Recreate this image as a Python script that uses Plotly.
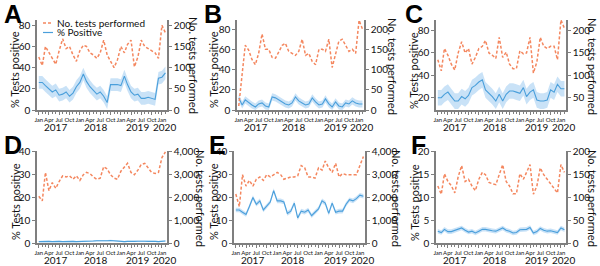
import plotly.graph_objects as go
import pandas as pd

# ---------------- data ----------------
months = pd.date_range("2017-01-01", periods=38, freq="MS")  # Jan 2017 .. Feb 2020
month_tick_vals = pd.date_range("2017-01-01", "2020-01-01", freq="3MS")
month_tick_text = ["Jan", "Apr", "Jul", "Oct"] * 3 + ["Jan"]
year_labels = ["2017", "2018", "2019", "2020"]
year_label_dates = ["2017-06-01", "2018-05-16", "2019-06-01", "2020-01-20"]

tests_A = [125, 105, 150, 135, 120, 108, 140, 168, 145, 150, 130, 115, 140, 153, 150, 135,
           130, 122, 135, 165, 130, 115, 100, 118, 150, 135, 155, 165, 102, 125, 165, 150,
           145, 140, 135, 122, 200, 182]
pct_A = [26, 26, 23, 20, 17, 19, 14, 15, 17, 13, 16, 22, 26, 34, 27, 22, 18, 15, 17, 13,
         7, 24, 24, 24, 23, 32, 24, 17, 14, 15, 11, 11, 12, 11, 10, 30, 31, 35]

tests_B = [10, 85, 160, 148, 125, 112, 140, 188, 150, 150, 130, 128, 145, 160, 165, 145,
           140, 135, 145, 175, 135, 140, 120, 112, 150, 150, 145, 175, 105, 140, 170, 175,
           160, 145, 150, 140, 222, 200]
pct_B = [12, 5, 10, 7, 5, 3, 6, 7, 4, 3, 13, 12, 10, 8, 6, 5, 7, 13, 9, 7,
         5, 6, 12, 8, 5, 6, 11, 6, 3, 8, 4, 3, 7, 6, 9, 7, 6, 6]

tests_C = [135, 110, 160, 145, 125, 112, 150, 175, 150, 160, 125, 140, 160, 165, 178, 150,
           145, 138, 185, 140, 152, 125, 115, 115, 155, 148, 150, 185, 105, 130, 185, 165,
           160, 165, 165, 135, 224, 205]
pct_C = [20, 20, 23, 25, 21, 17, 17, 21, 19, 22, 29, 31, 34, 36, 27, 24, 21, 17, 23, 17,
         23, 26, 26, 25, 24, 29, 21, 25, 27, 18, 17, 17, 18, 27, 25, 32, 28, 28]

tests_D = [2050, 1850, 3100, 2300, 2650, 2400, 2700, 2950, 2900, 2950, 2800, 2950, 2750, 3000,
           3100, 3050, 2900, 2800, 2850, 3350, 3250, 3000, 2850, 2800, 3150, 3350, 3500, 3100,
           3000, 3200, 3450, 3500, 3300, 3100, 3050, 3100, 3750, 4000]
pct_D = [0.6, 0.7, 0.6, 0.7, 0.6, 0.8, 0.7, 0.6, 0.7, 0.8, 0.7, 0.6, 0.6, 0.7, 0.8, 0.7,
         0.9, 1.0, 0.9, 0.8, 1.0, 1.1, 0.9, 0.8, 0.7, 0.6, 0.7, 0.6, 0.7, 0.8, 0.9, 0.8,
         0.7, 0.8, 0.7, 0.6, 0.8, 0.9]

tests_E = [2150, 1600, 3000, 2500, 2750, 2500, 2800, 2900, 2750, 3000, 2900, 3000, 3100, 3000,
           2800, 2850, 2900, 2900, 2950, 3400, 3300, 2900, 2900, 2850, 3300, 3200, 3600, 3300,
           3100, 3500, 2900, 3050, 3000, 3000, 3000, 3000, 3400, 3800]
pct_E = [14.5, 14.5, 13.5, 12.5, 16, 20, 17, 18.5, 14.5, 16, 18, 23, 18.5, 18.5, 18, 13,
         14, 17.5, 11, 14, 13.5, 14.5, 12, 13.5, 15, 18.5, 17.5, 13, 17.5, 13.5, 14, 14,
         17, 19, 18.5, 19.5, 21, 20.5]

tests_F = [125, 107, 152, 135, 126, 110, 145, 170, 135, 140, 125, 115, 140, 155, 150, 133,
           130, 128, 150, 172, 135, 125, 108, 108, 152, 140, 155, 172, 107, 125, 165, 150,
           140, 130, 120, 110, 172, 155]
pct_F = [2.6, 2.3, 3.0, 2.5, 2.5, 2.8, 3.0, 3.3, 2.8, 2.4, 2.6, 2.2, 2.6, 3.0, 3.0, 2.8,
         2.7, 2.6, 2.9, 3.3, 2.8, 2.6, 2.2, 2.3, 2.9, 2.9, 3.0, 3.4, 2.2, 2.5, 3.2, 2.8,
         2.6, 2.7, 2.5, 2.3, 3.3, 2.9]

# approximate 95% CI half-widths (percentage points), read from the bands
ci_half_A = 6.0
ci_half_B = 3.5
ci_half_C = 7.0
ci_half_D = 0.3
ci_half_E = 1.0
ci_half_F = 0.5

# ---------------- style ----------------
W, H = 600, 266
ORANGE = "#F4875F"
BLUE = "#4A9FDB"
BAND = "rgba(120,182,235,0.40)"
AX = "#7F7F7F"
FONT = "Lato"


def fx(p):
    return p / W


def fy(p):
    return 1 - p / H


TOP = (20, 110)
BOT = (151, 243)

panels = [
    dict(letter="A", tests=tests_A, pct=pct_A, hw=ci_half_A, xpx=(37, 167), row=TOP,
         lrange=[0, 85], rrange=[0, 212.5], lt=[0, 20, 40, 60, 80], rt=[0, 50, 100, 150, 200],
         letx=2, ltx=15, rtx=194),
    dict(letter="B", tests=tests_B, pct=pct_B, hw=ci_half_B, xpx=(237, 364), row=TOP,
         lrange=[0, 89], rrange=[0, 222.5], lt=[0, 20, 40, 60, 80], rt=[0, 50, 100, 150, 200],
         letx=202, ltx=214, rtx=393),
    dict(letter="C", tests=tests_C, pct=pct_C, hw=ci_half_C, xpx=(436, 566), row=TOP,
         lrange=[9, 89.5], rrange=[22.5, 223.75], lt=[20, 40, 60, 80], rt=[50, 100, 150, 200],
         letx=403, ltx=414, rtx=593),
    dict(letter="D", tests=tests_D, pct=pct_D, hw=ci_half_D, xpx=(37, 167), row=BOT,
         lrange=[0, 40.4], rrange=[0, 4040], lt=[0, 10, 20, 30, 40], rt=[0, 1000, 2000, 3000, 4000],
         letx=2, ltx=15, rtx=201),
    dict(letter="E", tests=tests_E, pct=pct_E, hw=ci_half_E, xpx=(234, 365), row=BOT,
         lrange=[0, 40.4], rrange=[0, 4040], lt=[0, 10, 20, 30, 40], rt=[0, 1000, 2000, 3000, 4000],
         letx=207, ltx=213, rtx=397),
    dict(letter="F", tests=tests_F, pct=pct_F, hw=ci_half_F, xpx=(436, 566), row=BOT,
         lrange=[0, 20.2], rrange=[0, 202], lt=[0, 5, 10, 15, 20], rt=[0, 50, 100, 150, 200],
         letx=409, ltx=414, rtx=593),
]

fig = go.Figure()
layout = dict(width=W, height=H, margin=dict(l=0, r=0, t=0, b=0, autoexpand=False),
              plot_bgcolor="white", paper_bgcolor="white", showlegend=False,
              template="none",
              font=dict(family=FONT, color="#111"))
annotations = []
shapes = []

for k, p in enumerate(panels):
    n = k + 1
    xname = "x" if n == 1 else f"x{n}"
    yl = 2 * n - 1
    yr = 2 * n
    ylname = "y" if yl == 1 else f"y{yl}"
    yrname = f"y{yr}"
    upper = [v + p["hw"] for v in p["pct"]]
    lower = [max(v - p["hw"], 0) for v in p["pct"]]

    fig.add_trace(go.Scatter(x=months, y=upper, xaxis=xname, yaxis=ylname, mode="lines",
                             line=dict(width=0, color=BAND), hoverinfo="skip"))
    fig.add_trace(go.Scatter(x=months, y=lower, xaxis=xname, yaxis=ylname, mode="lines",
                             line=dict(width=0, color=BAND), fill="tonexty", fillcolor=BAND,
                             hoverinfo="skip"))
    fig.add_trace(go.Scatter(x=months, y=p["pct"], xaxis=xname, yaxis=ylname, mode="lines",
                             line=dict(color=BLUE, width=1.1), name="% Positive"))
    fig.add_trace(go.Scatter(x=months, y=p["tests"], xaxis=xname, yaxis=yrname, mode="lines",
                             line=dict(color=ORANGE, width=1.5, dash="3px,2px"),
                             name="No. tests performed"))

    dom_x = [fx(p["xpx"][0]), fx(p["xpx"][1])]
    dom_y = [fy(p["row"][1]), fy(p["row"][0])]
    xkey = "xaxis" if n == 1 else f"xaxis{n}"
    ylkey = "yaxis" if yl == 1 else f"yaxis{yl}"
    yrkey = f"yaxis{yr}"

    layout[xkey] = dict(domain=dom_x, anchor=ylname, type="date", automargin=False,
                        range=["2016-12-16", "2020-02-15"],
                        tickvals=list(month_tick_vals), ticktext=month_tick_text,
                        tickangle=0, tickfont=dict(size=6, family=FONT),
                        ticks="outside", ticklen=3, tickwidth=1, tickcolor=AX,
                        minor=dict(ticks="outside", ticklen=2, dtick="M1",
                                   tick0="2017-01-01", tickcolor=AX, tickwidth=1,
                                   showgrid=False),
                        showline=True, linecolor=AX, linewidth=1.5,
                        showgrid=False, zeroline=False)
    layout[ylkey] = dict(domain=dom_y, anchor=xname, range=p["lrange"], tickvals=p["lt"],
                         automargin=False,
                         ticks="outside", ticklen=3, tickcolor=AX, tickwidth=1,
                         tickfont=dict(size=10, family=FONT),
                         showline=True, linecolor=AX, linewidth=1.5,
                         showgrid=False, zeroline=False)
    layout[yrkey] = dict(overlaying=ylname, side="right", anchor=xname, range=p["rrange"],
                         tickvals=p["rt"], tickformat=",d", automargin=False,
                         ticks="outside", ticklen=3, tickcolor=AX, tickwidth=1,
                         tickfont=dict(size=10, family=FONT),
                         showline=True, linecolor=AX, linewidth=1.5,
                         showgrid=False, zeroline=False)

    # panel letter
    annotations.append(dict(text=f"<b>{p['letter']}</b>", xref="paper", yref="paper",
                            x=fx(p["letx"]), y=fy(p["row"][0] - 22), xanchor="left",
                            yanchor="top", showarrow=False,
                            font=dict(size=25, family="Liberation Sans", color="black")))
    # axis titles
    mid = (p["row"][0] + p["row"][1]) / 2
    annotations.append(dict(text="% Tests positive", xref="paper", yref="paper",
                            x=fx(p["ltx"]), y=fy(mid + 5), textangle=-90, showarrow=False,
                            xanchor="center", yanchor="middle", borderpad=0,
                            font=dict(size=11, family=FONT, color="#111")))
    annotations.append(dict(text="No. tests performed", xref="paper", yref="paper",
                            x=fx(p["rtx"]), y=fy(mid + 1), textangle=90, showarrow=False,
                            xanchor="center", yanchor="middle", borderpad=0,
                            font=dict(size=11, family=FONT, color="#111")))
    # year labels
    for lab, d in zip(year_labels, year_label_dates):
        annotations.append(dict(text=lab, xref=xname, yref="paper", x=d,
                                y=fy(p["row"][1] + 17), showarrow=False,
                                xanchor="center", yanchor="middle",
                                font=dict(size=10, family=FONT, color="#111")))

# legend in panel A (drawn manually)
shapes.append(dict(type="line", xref="paper", yref="paper", x0=fx(43), x1=fx(53),
                   y0=fy(23), y1=fy(23), line=dict(color=ORANGE, width=1.5, dash="3px,2px")))
shapes.append(dict(type="line", xref="paper", yref="paper", x0=fx(43), x1=fx(53),
                   y0=fy(32.5), y1=fy(32.5), line=dict(color=BLUE, width=1.2)))
annotations.append(dict(text="No. tests performed", xref="paper", yref="paper", x=fx(55),
                        y=fy(23), xanchor="left", yanchor="middle", showarrow=False,
                        font=dict(size=10, family=FONT, color="#111")))
annotations.append(dict(text="% Positive", xref="paper", yref="paper", x=fx(55),
                        y=fy(32.5), xanchor="left", yanchor="middle", showarrow=False,
                        font=dict(size=10, family=FONT, color="#111")))

layout["annotations"] = annotations
layout["shapes"] = shapes
fig.update_layout(**layout)
fig.write_html("out.html", config={"displayModeBar": False},
               post_script="document.body.style.margin='0px';document.body.style.padding='0px';")
